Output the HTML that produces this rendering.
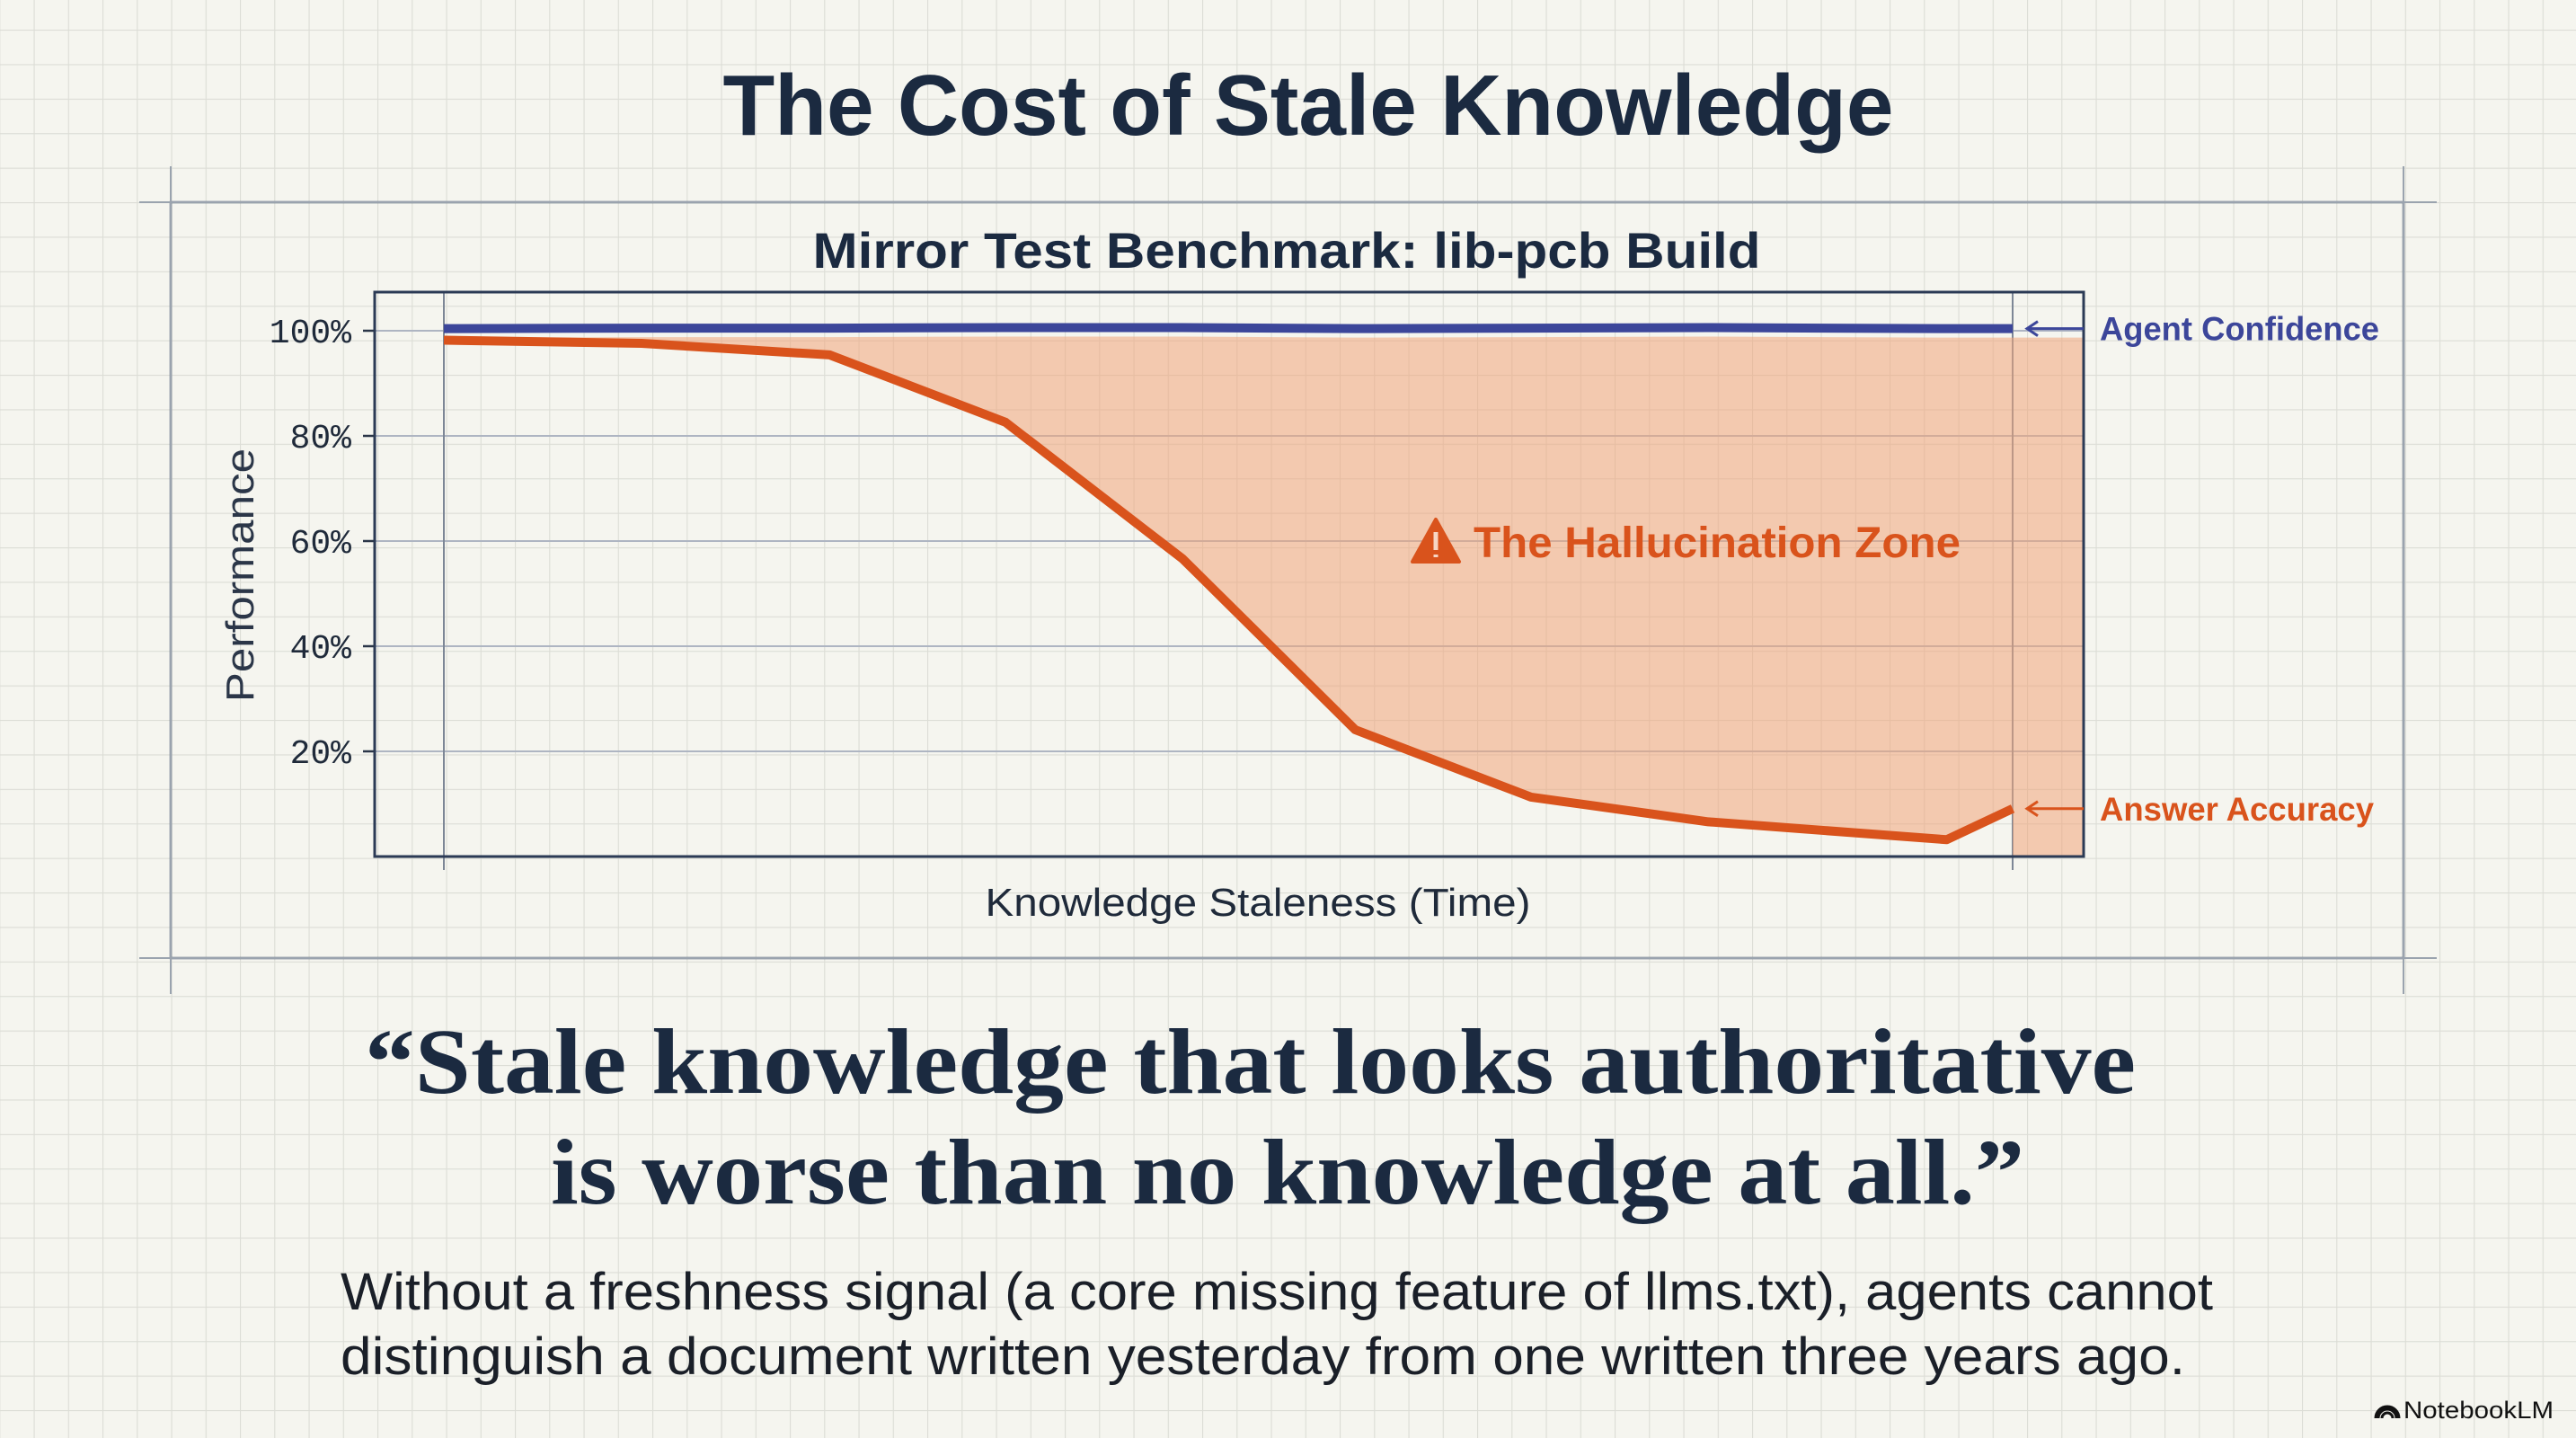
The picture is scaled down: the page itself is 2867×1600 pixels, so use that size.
<!DOCTYPE html>
<html><head><meta charset="utf-8"><style>
html,body{margin:0;padding:0;background:#f5f5ef;}
svg{display:block;}
</style></head><body>
<svg id="page" width="2867" height="1600" viewBox="0 0 2867 1600" xmlns="http://www.w3.org/2000/svg">
<defs>
<pattern id="grid" x="37.5" y="33" width="38.25" height="38.4" patternUnits="userSpaceOnUse">
<path d="M0 0H38.25M0 0V38.4" stroke="#dcddd6" stroke-width="2.2" fill="none"/>
</pattern>
</defs>
<rect width="2867" height="1600" fill="#f5f5ef"/>
<rect width="2867" height="1600" fill="url(#grid)"/>

<text x="1456" y="150" text-anchor="middle" font-family="Liberation Sans, sans-serif" font-weight="bold" font-size="96" fill="#1b2a40" textLength="1303" lengthAdjust="spacingAndGlyphs">The Cost of Stale Knowledge</text>

<g stroke="#55657a" fill="none">
<rect x="190" y="225" width="2485" height="841" stroke-width="2.5"/>
<line x1="190" y1="185" x2="190" y2="1106" stroke="#9aa3ae" stroke-width="2"/>
<line x1="2675" y1="185" x2="2675" y2="1106" stroke="#9aa3ae" stroke-width="2"/>
<line x1="155" y1="225" x2="2712" y2="225" stroke="#9aa3ae" stroke-width="2"/>
<line x1="155" y1="1066" x2="2712" y2="1066" stroke="#9aa3ae" stroke-width="2"/>
</g>

<text x="1432" y="298" text-anchor="middle" font-family="Liberation Sans, sans-serif" font-weight="bold" font-size="56" fill="#1b2a40" textLength="1055" lengthAdjust="spacingAndGlyphs">Mirror Test Benchmark: lib-pcb Build</text>

<g id="chart"></g>

<text transform="translate(282,640) rotate(-90)" text-anchor="middle" font-family="Liberation Sans, sans-serif" font-size="44" fill="#2b3648" textLength="282" lengthAdjust="spacingAndGlyphs">Performance</text>
<text x="1400" y="1019" text-anchor="middle" font-family="Liberation Sans, sans-serif" font-size="44" fill="#1f2a3a" textLength="607" lengthAdjust="spacingAndGlyphs">Knowledge Staleness (Time)</text>

<text x="406" y="1216" font-family="Liberation Serif, serif" font-weight="bold" font-size="104" fill="#1b2a40" textLength="1971" lengthAdjust="spacingAndGlyphs">“Stale knowledge that looks authoritative</text>
<text x="613" y="1339" font-family="Liberation Serif, serif" font-weight="bold" font-size="104" fill="#1b2a40" textLength="1640" lengthAdjust="spacingAndGlyphs">is worse than no knowledge at all.”</text>
<text x="379" y="1457" font-family="Liberation Sans, sans-serif" font-size="58" fill="#1a1f28" textLength="2084" lengthAdjust="spacingAndGlyphs">Without a freshness signal (a core missing feature of llms.txt), agents cannot</text>
<text x="379" y="1529" font-family="Liberation Sans, sans-serif" font-size="58" fill="#1a1f28" textLength="2053" lengthAdjust="spacingAndGlyphs">distinguish a document written yesterday from one written three years ago.</text>

<g>
<path d="M2647 1578a10 10 0 0 1 20 0M2651 1578a6 6 0 0 1 12 0M2644 1578a13 13 0 0 1 26 0" stroke="#111" stroke-width="3" fill="none"/>
<text x="2675" y="1578" font-family="Liberation Sans, sans-serif" font-size="27" fill="#111" textLength="167" lengthAdjust="spacingAndGlyphs">NotebookLM</text>
</g>
</svg>
<script>
const timePoints = [0, 12.6, 24.6, 35.8, 47.1, 58.1, 69.3, 80.6, 95.8, 100];
const accuracyValues = [98.2, 97.6, 95.4, 82.6, 56.6, 24.1, 11.3, 6.6, 3.2, 9.1];
const confidenceValues = [100.4, 100.5, 100.5, 100.6, 100.6, 100.4, 100.5, 100.6, 100.4, 100.4];
const yTickValues = [100, 80, 60, 40, 20];
const yTickLabels = ['100%', '80%', '60%', '40%', '20%'];

const NS = 'http://www.w3.org/2000/svg';
const plot = {left: 417, right: 2319, top: 325, bottom: 953};
function xScale(t){ return 494 + t / 100 * 1746; }
function yScale(v){ return 953 - v * 5.85; }
const chart = document.getElementById('chart');
function mk(tag, attrs){ const e = document.createElementNS(NS, tag); for (const k in attrs) e.setAttribute(k, attrs[k]); chart.appendChild(e); return e; }

// gridlines
yTickValues.forEach((v, i) => {
  const g = mk('line', {x1: plot.left, x2: plot.right, y1: yScale(v), y2: yScale(v), stroke: '#aeb5c2', 'stroke-width': 2});
  
  
  const tk = mk('line', {x1: plot.left - 13, x2: plot.left, y1: yScale(v), y2: yScale(v), stroke: '#2b3648', 'stroke-width': 2.5});
  
  
  const t = mk('text', {x: 391, y: yScale(v) + 13, 'text-anchor': 'end', 'font-family': 'Liberation Mono, monospace', 'font-size': 38, fill: '#1f2a3a'});
  t.textContent = yTickLabels[i];
  
  
});
[0, 100].forEach(t => {
  const l = mk('line', {x1: xScale(t), x2: xScale(t), y1: plot.top, y2: plot.bottom + 15, stroke: '#7d8796', 'stroke-width': 2});
  
  
});

// fill zone
let pts = timePoints.map((t, i) => xScale(t) + ',' + (yScale(confidenceValues[i]) + 10));
pts.push(plot.right + ',' + (yScale(confidenceValues[confidenceValues.length - 1]) + 10));
pts.push(plot.right + ',' + plot.bottom);
pts.push(xScale(timePoints[timePoints.length - 1]) + ',' + plot.bottom);
for (let i = timePoints.length - 1; i >= 0; i--) pts.push(xScale(timePoints[i]) + ',' + yScale(accuracyValues[i]));
const zone = mk('polygon', {points: pts.join(' '), fill: '#f0a47a', 'fill-opacity': 0.55});



// plot border
const pb = mk('rect', {x: plot.left, y: plot.top, width: plot.right - plot.left, height: plot.bottom - plot.top, fill: 'none', stroke: '#2b3a55', 'stroke-width': 3});



const conf = mk('polyline', {points: timePoints.map((t, i) => xScale(t) + ',' + yScale(confidenceValues[i])).join(' '), fill: 'none', stroke: '#3c469a', 'stroke-width': 10, 'stroke-linejoin': 'round'});


const acc = mk('polyline', {points: timePoints.map((t, i) => xScale(t) + ',' + yScale(accuracyValues[i])).join(' '), fill: 'none', stroke: '#d9531c', 'stroke-width': 10, 'stroke-linejoin': 'round'});



// labels with arrows
function label(name, val, text, color, w){
  const y = yScale(val);
  const a = mk('path', {d: `M${plot.right} ${y}H2256M2268 ${y-8}L2256 ${y}L2268 ${y+8}`, stroke: color, 'stroke-width': 3, fill: 'none'});
  
  
  const t = mk('text', {x: 2337, y: y + 13, 'font-family': 'Liberation Sans, sans-serif', 'font-weight': 'bold', 'font-size': 37, fill: color, textLength: w, lengthAdjust: 'spacingAndGlyphs'});
  t.textContent = text;
  
  
}
label('agent-confidence', confidenceValues[confidenceValues.length - 1], 'Agent Confidence', '#3c469a', 311);
label('answer-accuracy', accuracyValues[accuracyValues.length - 1], 'Answer Accuracy', '#d9531c', 305);

// hallucination zone label
const tri = mk('path', {d: 'M1598 578L1624 625H1572Z', fill: '#d9531c', stroke: '#d9531c', 'stroke-width': 4, 'stroke-linejoin': 'round'});


const ex = mk('path', {d: 'M1598 592V612M1598 617V620', stroke: '#f6d6c4', 'stroke-width': 5});


const hz = mk('text', {x: 1640, y: 620, 'font-family': 'Liberation Sans, sans-serif', 'font-weight': 'bold', 'font-size': 48, fill: '#d9531c', textLength: 542, lengthAdjust: 'spacingAndGlyphs'});
hz.textContent = 'The Hallucination Zone';


</script>
</body></html>
